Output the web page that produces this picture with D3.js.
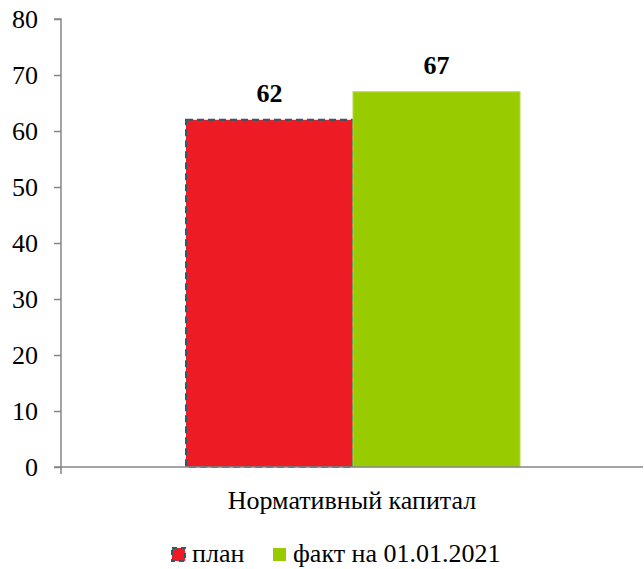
<!DOCTYPE html>
<html>
<head>
<meta charset="utf-8">
<script src="https://cdn.jsdelivr.net/npm/d3@7"></script>
<style>
  body { margin: 0; background: #fff; }
</style>
</head>
<body>
<div id="chart"></div>
<script>
// data
var categories = ["Нормативный капитал"];
var seriesNames = ["план", "факт на 01.01.2021"];
var seriesValues = [62, 67];
var seriesColors = ["#ed1c24", "#99cc00"];
var yTicks = [0, 10, 20, 30, 40, 50, 60, 70, 80];

var FONT = "Liberation Serif";

var W = 644, H = 569;
var margin = { top: 19, right: 1, bottom: 102, left: 61 },
    width = W - margin.left - margin.right,
    height = H - margin.top - margin.bottom;

var svg = d3.select("#chart")
    .append("svg")
    .attr("width", W)
    .attr("height", H)
    .append("g")
    .attr("font-family", FONT)
    .attr("transform", "translate(" + margin.left + "," + margin.top + ")");

var y = d3.scaleLinear().domain([0, 80]).range([height, 0]);

var x0 = d3.scaleBand().domain(categories).range([0, width]).paddingInner(0).paddingOuter(0);
var x1 = d3.scaleBand().domain(seriesNames).range([125, 459]).padding(0);

// bars
svg.selectAll(".bar")
    .data(seriesValues)
    .enter()
    .append("rect")
    .attr("class", "bar")
    .attr("x", function (d, i) { return x0(categories[0]) + x1(seriesNames[i]); })
    .attr("y", function (d) { return y(d); })
    .attr("width", x1.bandwidth())
    .attr("height", function (d) { return y(0) - y(d); })
    .style("fill", function (d, i) { return seriesColors[i]; })
    .style("stroke", function (d, i) { return i === 0 ? "#30596a" : "#b4d84c"; })
    .style("stroke-width", function (d, i) { return i === 0 ? 2 : 1; })
    .style("stroke-dasharray", function (d, i) { return i === 0 ? "7,4" : null; });

// data labels
svg.selectAll(".lbl")
    .data(seriesValues)
    .enter()
    .append("text")
    .attr("class", "lbl")
    .attr("x", function (d, i) { return x0(categories[0]) + x1(seriesNames[i]) + x1.bandwidth() / 2; })
    .attr("y", function (d) { return y(d) - 18; })
    .attr("text-anchor", "middle")
    .attr("font-family", FONT)
    .attr("font-size", 26)
    .attr("font-weight", "bold")
    .text(function (d) { return d; });

// y axis
var yAxis = svg.append("g")
    .call(d3.axisLeft(y).tickValues(yTicks).tickSize(7).tickPadding(16));
yAxis.attr("font-family", FONT).attr("font-size", 26);
yAxis.selectAll("text").attr("fill", "#000");
yAxis.selectAll("line").attr("stroke", "#868686").attr("stroke-width", 1.5);
yAxis.select(".domain").attr("stroke", "#868686").attr("stroke-width", 1.5)
    .attr("d", "M0," + height + "V0H-7");

// x axis
var xAxis = svg.append("g")
    .attr("transform", "translate(0," + height + ")")
    .call(d3.axisBottom(x0).tickSize(0).tickPadding(24));
xAxis.attr("font-family", FONT).attr("font-size", 26);
xAxis.select(".domain").attr("stroke", "#868686").attr("stroke-width", 1.5)
    .attr("d", "M-7,0H" + width);
xAxis.selectAll("text").attr("fill", "#000");
xAxis.append("line")
    .attr("x1", 0).attr("x2", 0).attr("y1", 0).attr("y2", 7)
    .attr("stroke", "#868686").attr("stroke-width", 1.5);

// legend
var legendX = [111, 212];
var legend = svg.selectAll(".legend")
    .data(seriesNames)
    .enter()
    .append("g")
    .attr("class", "legend")
    .attr("transform", function (d, i) { return "translate(" + legendX[i] + "," + (height + 81) + ")"; });

legend.append("rect")
    .attr("x", 0).attr("y", 0)
    .attr("width", 13).attr("height", 13)
    .style("fill", function (d, i) { return seriesColors[i]; })
    .style("stroke", function (d, i) { return i === 0 ? "#30596a" : "none"; })
    .style("stroke-width", 2)
    .style("stroke-dasharray", "5,4");

legend.append("text")
    .attr("x", 20)
    .attr("y", 14)
    .attr("font-family", FONT)
    .attr("font-size", 26)
    .text(function (d) { return d; });
</script>
</body>
</html>
